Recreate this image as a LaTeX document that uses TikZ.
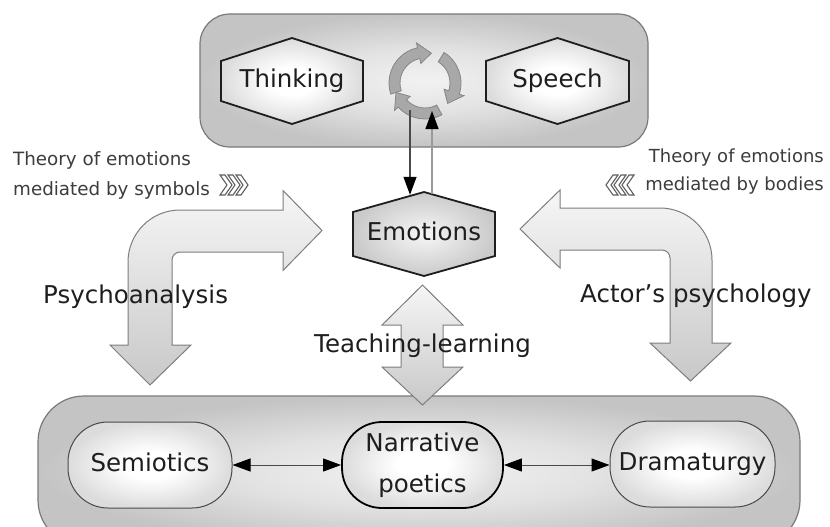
\documentclass[tikz,border=0pt]{standalone}
\usepackage{fontspec}
\setmainfont{DejaVu Sans}
\usetikzlibrary{arrows.meta,calc}
\definecolor{ink}{HTML}{1E1E1E}
\definecolor{soft}{HTML}{3C3C3C}
\definecolor{boxedge}{HTML}{7A7A7A}
\definecolor{boxin}{HTML}{F2F2F2}
\definecolor{boxmid}{HTML}{E2E2E2}
\definecolor{boxout}{HTML}{C4C4C4}
\definecolor{hexout}{HTML}{DCDCDC}
\definecolor{emoin}{HTML}{F6F6F6}
\definecolor{emoout}{HTML}{CACACA}
\definecolor{arrtop}{HTML}{F6F6F6}
\definecolor{arrbot}{HTML}{C8C8C8}
\definecolor{arredge}{HTML}{7E7E7E}
\definecolor{cycfill}{HTML}{A8A8A8}
\definecolor{cycedge}{HTML}{868686}
\definecolor{lineDark}{HTML}{4A4A4A}
\definecolor{lineLight}{HTML}{9A9A9A}
\definecolor{chevline}{HTML}{5E5E5E}
\pgfdeclareradialshading{boxshade}{\pgfpointorigin}{color(0bp)=(boxin); color(12bp)=(boxmid); color(25bp)=(boxout); color(50bp)=(boxout)}
\pgfdeclareradialshading{hexshade}{\pgfpointorigin}{color(0bp)=(white); color(8bp)=(white); color(25bp)=(hexout); color(50bp)=(hexout)}
\pgfdeclareradialshading{emoshade}{\pgfpointorigin}{color(0bp)=(emoin); color(25bp)=(emoout); color(50bp)=(emoout)}
\tikzset{
  container/.style={draw=boxedge, line width=1.2pt, shade, shading=boxshade, rounded corners=#1, inner sep=0pt},
  hexpath/.style={draw=ink, line width=1.8pt, shade, shading=#1, line join=miter},
  hextext/.style={inner sep=0pt, text=ink, font=\fontsize{24.5}{29}\selectfont, text height=18.6pt, text depth=5.7pt},
  pill/.style={draw=#1, shade, shading=hexshade, rounded corners=40pt, minimum height=86pt, inner sep=0pt, text=ink, align=center},
  bigarrow/.style={draw=arredge, line width=1pt, top color=arrtop, bottom color=arrbot},
  cycarrow/.style={draw=cycedge, line width=0.8pt, fill=cycfill},
  lbl/.style={text=ink, font=\fontsize{24.5}{29}\selectfont, inner sep=0pt},
  notetext/.style={text=soft, inner sep=0pt},
  chevstyle/.style={draw=chevline, fill=white, line width=1.1pt, line join=miter},
  hline/.style={draw=lineDark, line width=1pt},
  tipA/.tip={Triangle[length=18pt,width=13pt,color=black]},
  chevron/.pic={\path[chevstyle] (0,-10) -- (5,-10) -- (12,0) -- (5,10) -- (0,10) -- (7,0) -- cycle;}
}
\newcommand\myhex[8]{%
  \path[hexpath=#7] (#2,#3-#5/2) -- (#2+#4/2,#3-#5/2+#6) -- (#2+#4/2,#3+#5/2-#6) -- (#2,#3+#5/2) -- (#2-#4/2,#3+#5/2-#6) -- (#2-#4/2,#3-#5/2+#6) -- cycle;
  \node[hextext, minimum width=#4, minimum height=#5] (#1) at (#2,#3) {#8};
}
\newcommand\cycarr[2]{%
  \path[cycarrow] (#1:36) arc[start angle=#1, end angle=#2+24, radius=36] -- (#2+24:41) -- (#2:30.5) -- (#2+24:20) -- (#2+24:25) arc[start angle=#2+24, end angle=#1, radius=25] -- cycle;
}
\begin{document}
\begin{tikzpicture}[x=1pt,y=-1pt]
\useasboundingbox (0,0) rectangle (830,527);
\clip (0,0) rectangle (830,527);
\fill[white] (0,0) rectangle (830,527);

% containers
\node[container=30pt, minimum width=448pt, minimum height=133pt] (topbox) at (424,80.5) {};
\node[container=46pt, minimum width=762pt, minimum height=150pt] (botbox) at (419,471) {};

% bent arrows
\path[bigarrow] (172,345) -- (172,260) arc[start angle=180,end angle=270,radius=8] -- (283,252) -- (283,270.5) -- (322,230.5) -- (283,190.5) -- (283,210) -- (180,210) arc[start angle=270,end angle=180,radius=52] -- (128,345) -- (110,345) -- (150,385) -- (191,345) -- cycle;
\path[bigarrow] (670,343) -- (670,258) arc[start angle=0,end angle=-90,radius=8] -- (560,250) -- (560,268) -- (520,229) -- (560,190) -- (560,208) -- (660,208) arc[start angle=-90,end angle=0,radius=52] -- (712,343) -- (731,343) -- (690.5,381) -- (650,343) -- cycle;
% teaching-learning double arrow
\path[bigarrow] (422.5,285) -- (463,325) -- (443,325) -- (443,367) -- (463,367) -- (422.5,405) -- (382,367) -- (401,367) -- (401,325) -- (382,325) -- cycle;

% hexagons
\myhex{think}{292}{81}{142}{86}{23}{hexshade}{Thinking}
\myhex{speech}{557.5}{81}{143}{86}{23}{hexshade}{Speech}
\myhex{emo}{424}{234}{142}{84}{20}{emoshade}{Emotions}

% cycle
\begin{scope}[shift={(425,83)}, yscale=-1]
  \cycarr{198}{78}
  \cycarr{58}{-42}
  \cycarr{-62}{-162}
\end{scope}
\coordinate (cycL) at (410,110);
\coordinate (cycR) at (432,111);
\draw[draw=lineDark, line width=1.2pt, -tipA] (cycL) -- ($(cycL |- emo.north)+(0,3)$);
\draw[draw=lineLight, line width=1.2pt, -tipA] ($(cycR |- emo.north)+(0,2)$) -- (cycR);

% chevrons
\pic at (220,185) {chevron};
\pic at (228,185) {chevron};
\pic at (236,185) {chevron};
\pic[xscale=-1] at (634,185) {chevron};
\pic[xscale=-1] at (626,185) {chevron};
\pic[xscale=-1] at (618,185) {chevron};

% notes
\node[notetext, font=\fontsize{18.3}{30}\selectfont, anchor=west, align=left] (symb) at (13,175) {Theory of emotions\\mediated by symbols};
\node[notetext, font=\fontsize{18}{28}\selectfont, anchor=east, align=right] (bodies) at (824,171.5) {Theory of emotions\\mediated by bodies};

% labels
\node[lbl, anchor=base west] (psy) at (43,303) {Psychoanalysis};
\node[lbl, anchor=base west] (actor) at (580,302) {Actor’s psychology};
\node[lbl, anchor=base] (teach) at (422.5,352) {Teaching-learning};

% bottom nodes
\node[pill=lineDark, line width=1pt, minimum width=164pt, font=\fontsize{24.5}{29}\selectfont, text height=18.6pt, text depth=5.7pt] (sem) at (150,465) {Semiotics};
\node[pill=black, line width=1.8pt, minimum width=161pt, font=\fontsize{24.5}{41}\selectfont] (nar) at (422.5,465) {Narrative\\poetics};
\node[pill=lineDark, line width=1pt, minimum width=165pt, font=\fontsize{24.5}{29}\selectfont, text height=18.6pt, text depth=5.7pt] (dram) at (692.5,464) {Dramaturgy};
\draw[hline, tipA-tipA] (sem.east) -- (nar.west);
\draw[hline, tipA-tipA] (nar.east) -- (dram.west |- nar.east);
\end{tikzpicture}
\end{document}
